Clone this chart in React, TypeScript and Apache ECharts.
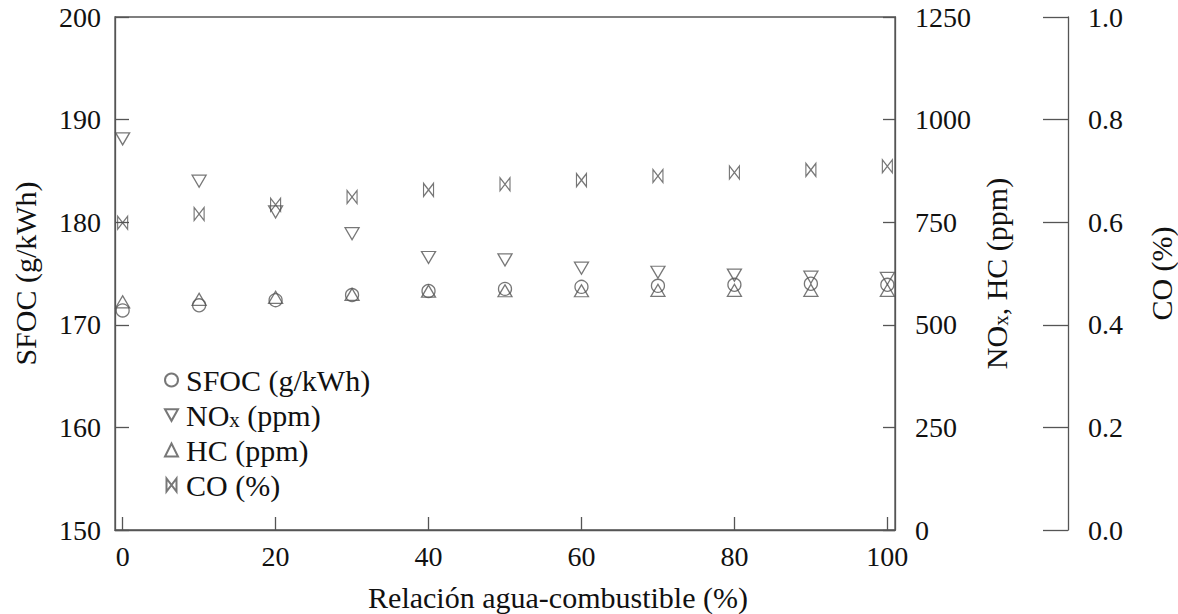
import React, { useEffect, useRef } from "react";
import * as echarts from "echarts";

const waterRatio = [0, 10, 20, 30, 40, 50, 60, 70, 80, 90, 100];
const sfoc = [171.4, 171.9, 172.4, 172.9, 173.3, 173.5, 173.7, 173.8, 173.9, 174.0, 173.9];
const nox = [953, 850, 775, 722, 664, 658, 638, 628, 621, 616, 613];
const hc = [556, 562, 567, 574, 582, 583, 583, 584, 584, 584, 584];
const co = [0.599, 0.616, 0.634, 0.649, 0.663, 0.674, 0.682, 0.69, 0.697, 0.702, 0.709];
const xTicks = [0, 20, 40, 60, 80, 100];

const FONT = "Liberation Serif";
const TXT = "#111";
const LINE = "#555";
const FS = 28;
const TS = 30;

const DOWN_TRI = "path://M0,0 L10,0 L5,9 Z";
const BOWTIE = "path://M0,0 L0,13 L10,0 L10,13 Z";

export default function App() {
  const ref = useRef<HTMLDivElement>(null);
  useEffect(() => {
    const chart = echarts.init(ref.current!, null, { renderer: "svg" });
    const pair = (ys: number[]) => waterRatio.map((x, i) => [x, ys[i]]);
    const markerStyle = { color: "rgba(0,0,0,0)", borderColor: LINE, borderWidth: 1.3 };
    const axisLineStyle = { show: true, onZero: false, lineStyle: { color: LINE, width: 1.3 } };
    const richText = {
      a: { fontFamily: FONT, fontSize: TS, color: TXT, lineHeight: 30 },
      sub: { fontFamily: FONT, fontSize: 21, color: TXT, verticalAlign: "bottom", lineHeight: 16 },
    };
    chart.setOption({
      animation: false,
      backgroundColor: "#fff",
      textStyle: { fontFamily: FONT, color: TXT },
      grid: {
        left: 115,
        right: 283,
        top: 17,
        bottom: 84,
        show: true,
        borderColor: LINE,
        borderWidth: 1.3,
        containLabel: false,
        outerBoundsMode: "none",
      },
      legend: {
        orient: "vertical",
        left: 159,
        top: 360,
        padding: 5,
        itemWidth: 13,
        itemHeight: 13,
        itemGap: 5,
        textStyle: {
          fontFamily: FONT,
          fontSize: TS,
          color: TXT,
          lineHeight: 30,
          padding: [0, 0, 0, 3],
          rich: richText,
        },
        formatter: (name: string) =>
          name === "NOx (ppm)" ? "{a|NO}{sub|x}{a| (ppm)}" : "{a|" + name + "}",
        data: ["SFOC (g/kWh)", "NOx (ppm)", "HC (ppm)", "CO (%)"],
      },
      xAxis: {
        type: "value",
        min: -1,
        max: 101,
        name: "Relación agua-combustible (%)",
        nameLocation: "middle",
        nameGap: 52,
        nameTextStyle: { fontFamily: FONT, fontSize: TS, color: TXT, padding: [0, 0, 0, 106] },
        axisLine: axisLineStyle,
        axisTick: { show: true, inside: true, length: 13, customValues: xTicks, lineStyle: { color: LINE, width: 1.3 } },
        axisLabel: { customValues: xTicks, fontFamily: FONT, fontSize: FS, color: TXT, margin: 12 },
        splitLine: { show: false },
      },
      yAxis: [
        {
          type: "value",
          min: 150,
          max: 200,
          interval: 10,
          position: "left",
          name: "SFOC (g/kWh)",
          nameLocation: "middle",
          nameGap: 75,
          nameTextStyle: { fontFamily: FONT, fontSize: TS, color: TXT },
          axisLine: axisLineStyle,
          axisTick: { show: true, inside: true, length: 14, lineStyle: { color: LINE, width: 1.3 } },
          axisLabel: { fontFamily: FONT, fontSize: FS, color: TXT, margin: 14 },
          splitLine: { show: false },
        },
        {
          type: "value",
          min: 0,
          max: 1250,
          interval: 250,
          position: "right",
          name: "{a|NO}{sub|x}{a|, HC (ppm)}",
          nameLocation: "middle",
          nameGap: 80,
          nameTextStyle: { fontFamily: FONT, fontSize: TS, color: TXT, rich: richText },
          axisLine: axisLineStyle,
          axisTick: { show: true, inside: true, length: 12, lineStyle: { color: LINE, width: 1.3 } },
          axisLabel: { fontFamily: FONT, fontSize: FS, color: TXT, margin: 20, formatter: (v: number) => String(v) },
          splitLine: { show: false },
        },
        {
          type: "value",
          min: 0,
          max: 1,
          interval: 0.2,
          position: "right",
          offset: 173,
          name: "CO (%)",
          nameLocation: "middle",
          nameGap: 78,
          nameTextStyle: { fontFamily: FONT, fontSize: TS, color: TXT },
          axisLine: axisLineStyle,
          axisTick: { show: true, inside: true, length: 25, lineStyle: { color: LINE, width: 1.3 } },
          axisLabel: { fontFamily: FONT, fontSize: FS, color: TXT, margin: 20, formatter: (v: number) => v.toFixed(1) },
          splitLine: { show: false },
        },
      ],
      series: [
        {
          name: "SFOC (g/kWh)",
          type: "scatter",
          yAxisIndex: 0,
          symbol: "circle",
          symbolSize: 13,
          itemStyle: markerStyle,
          data: pair(sfoc),
        },
        {
          name: "NOx (ppm)",
          type: "scatter",
          yAxisIndex: 1,
          symbol: DOWN_TRI,
          symbolSize: [14, 12],
          itemStyle: markerStyle,
          data: pair(nox),
        },
        {
          name: "HC (ppm)",
          type: "scatter",
          yAxisIndex: 1,
          symbol: "triangle",
          symbolSize: [14, 12],
          itemStyle: markerStyle,
          data: pair(hc),
        },
        {
          name: "CO (%)",
          type: "scatter",
          yAxisIndex: 2,
          symbol: BOWTIE,
          symbolSize: [10, 13],
          itemStyle: markerStyle,
          data: pair(co),
        },
      ],
    });
    return () => chart.dispose();
  }, []);
  return <div ref={ref} style={{ position: "fixed", left: 0, top: 0, width: 1178, height: 614 }} />;
}
